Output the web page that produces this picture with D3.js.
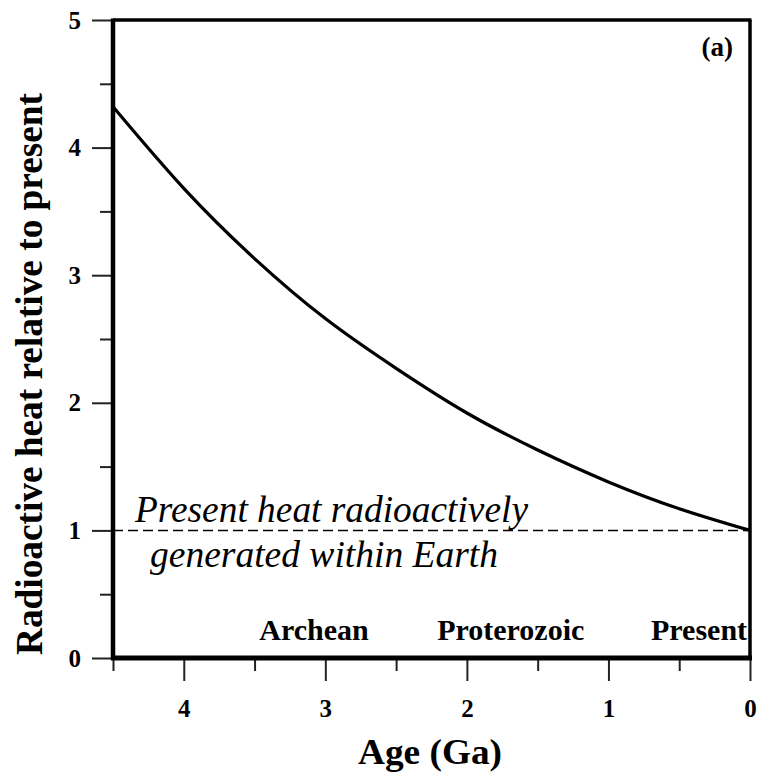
<!DOCTYPE html>
<html>
<head>
<meta charset="utf-8">
<script src="https://cdn.jsdelivr.net/npm/d3@7"></script>
<style>
  html, body { margin: 0; padding: 0; background: #fff; }
  svg { display: block; }
  text { font-family: "Liberation Serif", "Times New Roman", serif; fill: #000; }
</style>
</head>
<body>
<svg id="chart" width="760" height="772"></svg>
<script>
// Age before present (Ga) and radiogenic heat production relative to today
const ages = [4.5, 4.0, 3.5, 3.0, 2.5, 2.0, 1.5, 1.0, 0.5, 0.0];
const heat = [4.32, 3.68, 3.13, 2.66, 2.27, 1.92, 1.63, 1.38, 1.17, 1.0];

const xMajorTicks = [4, 3, 2, 1, 0];
const xMinorTicks = [4.5, 3.5, 2.5, 1.5, 0.5];
const yMajorTicks = [0, 1, 2, 3, 4, 5];
const yMinorTicks = [0.5, 1.5, 2.5, 3.5, 4.5];

const eras = ["Archean", "Proterozoic", "Present"];
const referenceLevel = 1;
const referenceText = ["Present heat radioactively", "generated within Earth"];

// ---- layout ----
const plotLeft = 113, plotRight = 750, plotTop = 20, plotBottom = 658;
const eraCentres = [3.08, 1.69, 0.36];   // ages at which the era names are centred

const svg = d3.select("#chart");

const x = d3.scaleLinear().domain([4.5, 0]).range([plotLeft, plotRight]);
const y = d3.scaleLinear().domain([0, 5]).range([plotBottom, plotTop]);

// minor ticks (no labels)
svg.append("g")
  .attr("transform", `translate(0,${plotBottom})`)
  .call(d3.axisBottom(x).tickValues(xMinorTicks).tickSize(13).tickFormat(""))
  .call(g => g.select(".domain").remove());
svg.append("g")
  .attr("transform", `translate(${plotLeft},0)`)
  .call(d3.axisLeft(y).tickValues(yMinorTicks).tickSize(13).tickFormat(""))
  .call(g => g.select(".domain").remove());

// major ticks with labels
const xAxis = svg.append("g")
  .attr("transform", `translate(0,${plotBottom})`)
  .call(d3.axisBottom(x).tickValues(xMajorTicks).tickSize(23).tickPadding(18).tickFormat(d3.format("d")));
const yAxis = svg.append("g")
  .attr("transform", `translate(${plotLeft},0)`)
  .call(d3.axisLeft(y).tickValues(yMajorTicks).tickSize(21).tickPadding(11).tickFormat(d3.format("d")));

[xAxis, yAxis].forEach(g => {
  g.select(".domain").remove();
  g.selectAll("text")
    .attr("fill", "#000")
    .style("font-family", '"Liberation Serif", serif')
    .style("font-size", "25px")
    .style("font-weight", "bold");
});
svg.selectAll(".tick line").attr("stroke", "#222").attr("stroke-width", 2);

// frame: heavy left and bottom axes, lighter top and right borders
svg.append("line").attr("x1", plotLeft).attr("x2", plotLeft).attr("y1", plotTop - 1.5).attr("y2", plotBottom + 2)
  .attr("stroke", "#000").attr("stroke-width", 4.5);
svg.append("line").attr("x1", plotLeft - 2).attr("x2", plotRight + 2).attr("y1", plotBottom).attr("y2", plotBottom)
  .attr("stroke", "#000").attr("stroke-width", 5);
svg.append("line").attr("x1", plotLeft).attr("x2", plotRight + 1.5).attr("y1", plotTop).attr("y2", plotTop)
  .attr("stroke", "#000").attr("stroke-width", 3.5);
svg.append("line").attr("x1", plotRight).attr("x2", plotRight).attr("y1", plotTop).attr("y2", plotBottom)
  .attr("stroke", "#000").attr("stroke-width", 3.5);

// present-day reference level
svg.append("line")
  .attr("x1", x(4.5)).attr("x2", x(0))
  .attr("y1", y(referenceLevel)).attr("y2", y(referenceLevel))
  .attr("stroke", "#000").attr("stroke-width", 1.5)
  .attr("stroke-dasharray", "10,5");

// heat production curve
const line = d3.line()
  .x((d, i) => x(ages[i]))
  .y(d => y(d))
  .curve(d3.curveNatural);
svg.append("path")
  .datum(heat)
  .attr("d", line)
  .attr("fill", "none")
  .attr("stroke", "#000")
  .attr("stroke-width", 3.2);

// reference level caption
const caption = [
  { text: referenceText[0], x: 135, y: 522, w: 393 },
  { text: referenceText[1], x: 150, y: 567, w: 348 }
];
svg.selectAll("text.caption").data(caption).enter().append("text")
  .attr("class", "caption")
  .attr("x", d => d.x).attr("y", d => d.y)
  .attr("textLength", d => d.w).attr("lengthAdjust", "spacingAndGlyphs")
  .style("font-size", "38px").style("font-style", "italic")
  .text(d => d.text);

// era names along the bottom of the plot
svg.selectAll("text.era").data(eras).enter().append("text")
  .attr("class", "era")
  .attr("x", (d, i) => x(eraCentres[i]))
  .attr("y", 640)
  .attr("text-anchor", "middle")
  .style("font-size", "30px").style("font-weight", "bold")
  .text(d => d);

// panel tag
svg.append("text")
  .attr("x", 733).attr("y", 56)
  .attr("text-anchor", "end")
  .style("font-size", "27px").style("font-weight", "bold")
  .text("(a)");

// axis titles
svg.append("text")
  .attr("x", 430).attr("y", 764)
  .attr("text-anchor", "middle")
  .attr("textLength", 144).attr("lengthAdjust", "spacingAndGlyphs")
  .style("font-size", "36px").style("font-weight", "bold")
  .text("Age (Ga)");

svg.append("text")
  .attr("transform", "translate(42,374) rotate(-90)")
  .attr("text-anchor", "middle")
  .attr("textLength", 562).attr("lengthAdjust", "spacingAndGlyphs")
  .style("font-size", "38px").style("font-weight", "bold")
  .text("Radioactive heat relative to present");
</script>
</body>
</html>
